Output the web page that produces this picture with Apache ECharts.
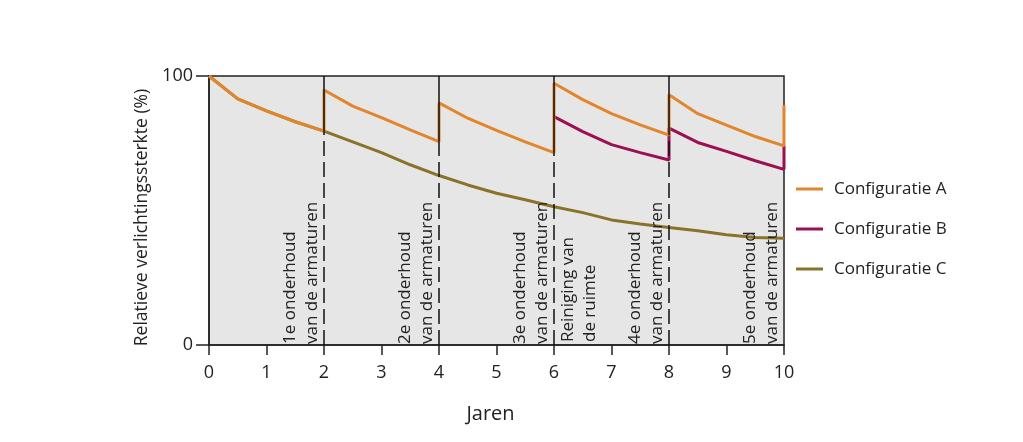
<!DOCTYPE html>
<html>
<head>
<meta charset="utf-8">
<script src="https://cdn.jsdelivr.net/npm/echarts@6/dist/echarts.min.js"></script>
<style>html,body{margin:0;padding:0;background:#fff}#c{width:1023px;height:442px}</style>
</head>
<body>
<div id="c"></div>
<script>
const seriesNames = ['Configuratie A', 'Configuratie B', 'Configuratie C'];
const xTicks = [0,1,2,3,4,5,6,7,8,9,10];

const yearsA = [0,0.5,1,1.5,2, 2,2.5,3,3.5,4, 4,4.5,5,5.5,6, 6,6.5,7,7.5,8, 8,8.5,9,9.5,10, 10];
const valuesA = [100,91.5,87,83,79.5, 94.8,88.8,84.5,80,75.6, 90,84.3,79.8,75.5,71.5, 97.3,91.2,86,81.8,78, 93,86,81.7,77.5,74, 89.2];

const yearsB = [6,6.5,7,7.5,8, 8,8.5,9,9.5,10, 10];
const valuesB = [84.9,79.3,74.5,71.5,68.8, 80.6,75.3,72,68.5,65.3, 74];

const yearsC = [0,0.5,1,1.5,2,2.5,3,3.5,4,4.5,5,5.5,6,6.5,7,7.5,8,8.5,9,9.5,10];
const valuesC = [100,91.5,87,83,79.5,75.5,71.5,67,63,59.5,56.4,54,51.4,49.2,46.5,45,43.7,42.5,41,40,39.7];

const eventYears = [2,4,6,8];
const eventLowValues = [79.5,75.6,71.5,78];
const maintenanceYears = [2,4,6,8,10];
const maintenanceLabels = [
  '1e onderhoud\nvan de armaturen',
  '2e onderhoud\nvan de armaturen',
  '3e onderhoud\nvan de armaturen',
  '4e onderhoud\nvan de armaturen',
  '5e onderhoud\nvan de armaturen'
];
const cleaningYear = 6;
const cleaningLabel = 'Reiniging van\nde ruimte';

const FONT = 'Open Sans';
const TXT = '#222';
const colors = ['#e2862d', '#9c0f52', '#8a722a'];

const zip = (xs, ys) => xs.map((x, i) => [x, ys[i]]);

const labelBase = {
  show: true, fontFamily: FONT, fontSize: 17, color: TXT, lineHeight: 22, distance: 1
};

const markData = [];
eventYears.forEach((x, i) => {
  markData.push([
    { coord: [x, 0], lineStyle: { type: [15, 6], width: 1.5, color: '#111' }, label: { show: false } },
    { coord: [x, eventLowValues[i]] }
  ]);
  markData.push([
    { coord: [x, eventLowValues[i]], lineStyle: { type: 'solid', width: 1.5, color: '#111' }, label: { show: false } },
    { coord: [x, 100] }
  ]);
});
maintenanceYears.forEach((x, i) => {
  markData.push([
    { coord: [x, 0], lineStyle: { width: 0, color: 'rgba(0,0,0,0)' },
      label: Object.assign({}, labelBase, { position: 'insideStartTop', formatter: maintenanceLabels[i] }) },
    { coord: [x, 100] }
  ]);
});
markData.push([
  { coord: [cleaningYear, 0], lineStyle: { width: 0, color: 'rgba(0,0,0,0)' },
    label: Object.assign({}, labelBase, { position: 'insideStartBottom', formatter: cleaningLabel, distance: 3 }) },
  { coord: [cleaningYear, 100] }
]);

const chart = echarts.init(document.getElementById('c'), null, { renderer: 'canvas' });
chart.setOption({
  animation: false,
  textStyle: { fontFamily: FONT },
  grid: { left: 209, right: 239, top: 76, bottom: 97, show: true, backgroundColor: '#e6e6e6', borderColor: '#222', borderWidth: 1.5 },
  legend: {
    data: seriesNames, orient: 'vertical', left: 791, top: 174,
    icon: 'rect', itemWidth: 27, itemHeight: 3, itemGap: 20,
    textStyle: { fontFamily: FONT, fontSize: 17, lineHeight: 20, color: TXT, padding: [0, 0, 0, 6] }
  },
  xAxis: {
    type: 'value', min: 0, max: 10, interval: 1,
    axisLine: { show: true, lineStyle: { color: '#222', width: 1.5 } },
    axisTick: { show: true, length: 10, lineStyle: { color: '#222', width: 1.5 } },
    axisLabel: { fontFamily: FONT, fontSize: 18, color: TXT, margin: 19,
      formatter: v => String(xTicks[xTicks.indexOf(v)]) },
    splitLine: { show: false },
    name: 'Jaren', nameLocation: 'middle', nameGap: 59,
    nameTextStyle: { fontFamily: FONT, fontSize: 20, color: TXT, padding: [0, 12, 0, 0] }
  },
  yAxis: {
    type: 'value', min: 0, max: 100, interval: 100,
    axisLine: { show: true, lineStyle: { color: '#222', width: 1.5 } },
    axisTick: { show: true, length: 13, lineStyle: { color: '#222', width: 1.5 } },
    axisLabel: { fontFamily: FONT, fontSize: 18, color: TXT, margin: 16 },
    splitLine: { show: false },
    name: 'Relatieve verlichtingssterkte (%)', nameLocation: 'middle', nameGap: 52,
    nameTextStyle: { fontFamily: FONT, fontSize: 17.5, color: TXT, padding: [0, 14, 0, 0] }
  },
  series: [
    {
      name: 'events', type: 'line', data: [], z: 1, silent: true,
      markLine: { silent: true, symbol: 'none', animation: false, data: markData }
    },
    { name: seriesNames[2], type: 'line', data: zip(yearsC, valuesC), symbol: 'none', z: 2,
      lineStyle: { color: colors[2], width: 3 }, itemStyle: { color: colors[2] } },
    { name: seriesNames[1], type: 'line', data: zip(yearsB, valuesB), symbol: 'none', z: 3,
      lineStyle: { color: colors[1], width: 3 }, itemStyle: { color: colors[1] } },
    { name: seriesNames[0], type: 'line', data: zip(yearsA, valuesA), symbol: 'none', z: 4,
      lineStyle: { color: colors[0], width: 3 }, itemStyle: { color: colors[0] } }
  ]
});
</script>
</body>
</html>
